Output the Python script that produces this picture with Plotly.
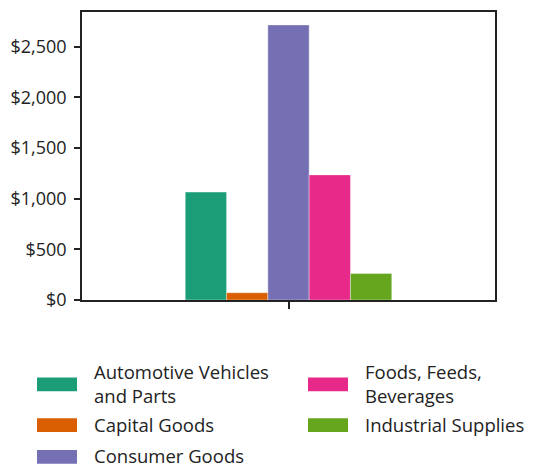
import plotly.graph_objects as go

# Trade value by product category (USD, millions)
categories = ["Total"]
series_names = [
    "Automotive Vehicles<br>and Parts",
    "Capital Goods",
    "Consumer Goods",
    "Foods, Feeds,<br>Beverages",
    "Industrial Supplies",
]
series_values = [1065, 72, 2715, 1235, 262]
series_colors = ["#1b9e77", "#d95f02", "#7570b3", "#e7298a", "#66a61e"]
y_tick_values = [0, 500, 1000, 1500, 2000, 2500]
y_tick_labels = ["$" + f"{v:,}" for v in y_tick_values]

FONT = "Open Sans, Noto Sans, sans-serif"
TEXT = "#222222"

fig = go.Figure()
for name, val, col in zip(series_names, series_values, series_colors):
    fig.add_trace(go.Bar(
        x=categories, y=[val], name=name,
        marker=dict(color=col, line=dict(color="rgba(255,255,255,0.6)", width=0.6)),
        showlegend=False,
    ))

W, H = 541, 470
ML, MR, MT, MB = 82, 46, 10, 170
PW, PH = W - ML - MR, H - MT - MB


def px_to_paper(px, py):
    return (px - ML) / PW, (H - MB - py) / PH


# Two-column legend below the plot, filled column by column
legend_slots = [
    (37, 385), (37, 426), (37, 458),
    (308, 385), (308, 426),
]
shapes = []
annotations = []
for name, col, (sx, sy) in zip(series_names, series_colors, legend_slots):
    x0, y0 = px_to_paper(sx, sy + 7)
    x1, y1 = px_to_paper(sx + 40, sy - 7)
    shapes.append(dict(type="rect", xref="paper", yref="paper",
                       x0=x0, y0=y0, x1=x1, y1=y1,
                       fillcolor=col, line=dict(width=0)))
    tx, ty = px_to_paper(sx + 55, sy - 1)
    annotations.append(dict(xref="paper", yref="paper", x=tx, y=ty,
                            text=name, showarrow=False, xanchor="left",
                            yanchor="middle", align="left",
                            font=dict(family=FONT, size=18.5, color=TEXT)))

fig.update_layout(
    width=W, height=H,
    margin=dict(l=ML, r=MR, t=MT, b=MB, pad=0),
    paper_bgcolor="white", plot_bgcolor="white",
    barmode="group", bargap=0.5, bargroupgap=0,
    font=dict(family=FONT, size=18, color=TEXT),
    shapes=shapes, annotations=annotations,
    xaxis=dict(showticklabels=False, ticks="outside", ticklen=7, tickwidth=1.5,
               tickcolor="#222", showline=True, linecolor="#222", linewidth=1.5,
               mirror=True, showgrid=False, zeroline=False),
    yaxis=dict(range=[0, 2843], tickmode="array", tickvals=y_tick_values,
               ticktext=y_tick_labels, ticks="outside", ticklen=6, tickwidth=1.5,
               tickcolor="#222", showline=True, linecolor="#222", linewidth=1.5,
               mirror=True, showgrid=False, zeroline=False,
               ticklabelstandoff=4,
               tickfont=dict(family=FONT, size=18, color=TEXT)),
)

fig.write_html("out.html")
